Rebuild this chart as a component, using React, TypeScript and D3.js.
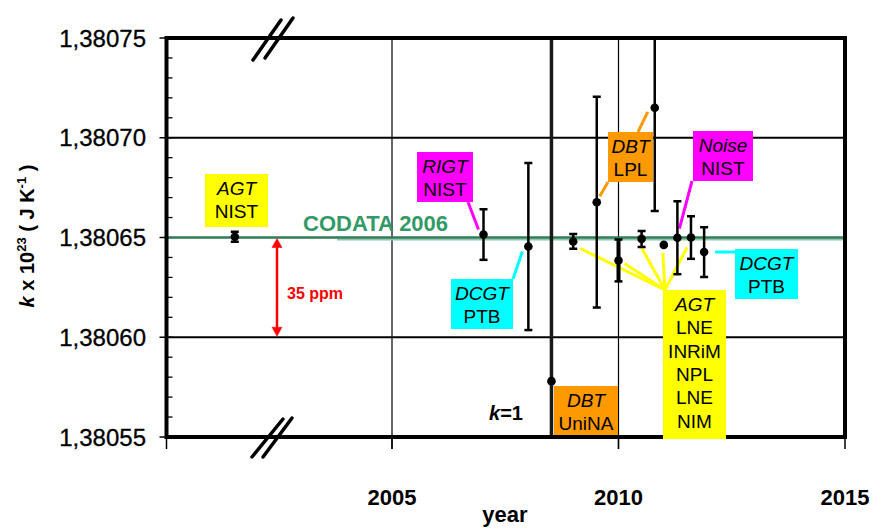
import React from "react";
import * as d3 from "d3";

const W = 872;
const H = 528;

// data: year, k x 1e23 value, uncertainty
const labels = ["AGT NIST", "RIGT NIST", "DCGT PTB", "DBT UniNA", "AGT LNE", "DBT LPL", "AGT INRiM", "AGT NPL", "DBT LPL 2", "AGT LNE 2", "Noise NIST", "AGT NIM", "DCGT PTB 2"];
const years = [2001.53, 2007.02, 2008.01, 2008.52, 2009.0, 2009.52, 2010.0, 2010.51, 2010.8, 2011.0, 2011.3, 2011.6, 2011.89];
const values = [1.3806504, 1.3806515, 1.3806455, 1.380578, 1.380648, 1.3806677, 1.3806385, 1.3806493, 1.380715, 1.3806463, 1.3806499, 1.38065, 1.3806427];
const errors = [0.0000025, 0.0000127, 0.0000419, 0.00025, 0.0000037, 0.0000528, 0.0000105, 0.000004, 0.0000517, 0.0000002, 0.0000183, 0.0000107, 0.0000125];

const yTicks = [1.38055, 1.3806, 1.38065, 1.3807, 1.38075];
const yMinor = d3.range(0, 21).map((i) => 1.38055 + i * 0.00001);
const xTicks = [2005, 2010, 2015];
const codata = 1.38065;

const L = 166.5, R = 845, T = 38, B = 437;
const x = d3.scaleLinear().domain([2000, 2015]).range([165.5, 845]);
const y = d3.scaleLinear().domain([1.38055, 1.38075]).range([B, T]);

const fmt = (v: number) => d3.format(".5f")(v).replace(".", ",");

const font = "'Liberation Sans', Arial, sans-serif";

type Box = { x: number; y: number; w: number; h: number; fill: string; lines: string[] };
const boxes: Box[] = [
  { x: 205, y: 174, w: 63, h: 53, fill: "#ffff00", lines: ["AGT", "NIST"] },
  { x: 417, y: 152, w: 56, h: 50, fill: "#ff00ff", lines: ["RIGT", "NIST"] },
  { x: 451, y: 279, w: 62, h: 50, fill: "#00ffff", lines: ["DCGT", "PTB"] },
  { x: 608, y: 132, w: 45, h: 50, fill: "#ff9900", lines: ["DBT", "LPL"] },
  { x: 693, y: 131, w: 60, h: 50, fill: "#ff00ff", lines: ["Noise", "NIST"] },
  { x: 735, y: 249, w: 63, h: 50, fill: "#00ffff", lines: ["DCGT", "PTB"] },
  { x: 663, y: 290, w: 63, h: 149, fill: "#ffff00", lines: ["AGT", "LNE", "INRiM", "NPL", "LNE", "NIM"] },
  { x: 554, y: 386, w: 64, h: 49, fill: "#ff9900", lines: ["DBT", "UniNA"] },
];

// leader lines: start point (box side), target data index, offset from point
type Leader = { sx: number; sy: number; i: number; dx: number; dy: number; color: string };
const leaders: Leader[] = [
  { sx: 468, sy: 202, i: 1, dx: -5, dy: -5, color: "#ff00ff" },
  { sx: 513, sy: 279, i: 2, dx: -6, dy: 5, color: "#00ffff" },
  { sx: 608, sy: 182, i: 5, dx: 3, dy: -6, color: "#ff9900" },
  { sx: 638, sy: 132, i: 8, dx: -7, dy: 4, color: "#ff9900" },
  { sx: 692, sy: 181, i: 10, dx: 2, dy: -9, color: "#ff00ff" },
  { sx: 735, sy: 252, i: 12, dx: 11, dy: 0, color: "#00ffff" },
  { sx: 665, sy: 290, i: 4, dx: 7, dy: 7, color: "#ffff00" },
  { sx: 665, sy: 290, i: 6, dx: 6, dy: 3, color: "#ffff00" },
  { sx: 665, sy: 290, i: 7, dx: 0, dy: 9, color: "#ffff00" },
  { sx: 665, sy: 290, i: 9, dx: -1, dy: 8, color: "#ffff00" },
  { sx: 665, sy: 290, i: 11, dx: -4, dy: 10, color: "#ffff00" },
];

export default function App() {
  return (
    <svg width={W} height={H} style={{ position: "absolute", left: 0, top: 0, background: "#fff" }} fontFamily={font}>
      <defs>
        <clipPath id="plot">
          <rect x={L} y={T} width={R - L} height={B - T} />
        </clipPath>
      </defs>
      {/* gridlines */}
      {xTicks.filter((t) => t < 2015).map((t) => (
        <line key={"gx" + t} x1={x(t)} x2={x(t)} y1={T} y2={B + 12} stroke="#000" strokeWidth={1.2} />
      ))}
      {[1.3806, 1.3807].map((t) => (
        <line key={"gy" + t} x1={L} x2={R} y1={y(t)} y2={y(t)} stroke="#000" strokeWidth={2} />
      ))}
      {/* y ticks */}
      {yMinor.map((t, i) => (
        <line key={"mi" + i} x1={L} x2={L + 6} y1={y(t)} y2={y(t)} stroke="#000" strokeWidth={1.3} />
      ))}
      {yTicks.map((t) => (
        <g key={"yt" + t}>
          <line x1={L - 7} x2={L} y1={y(t)} y2={y(t)} stroke="#000" strokeWidth={1.5} />
          <text x={146} y={y(t) + 8.5} textAnchor="end" fontSize={24} fill="#000" stroke="#000" strokeWidth={0.3}>{fmt(t)}</text>
        </g>
      ))}
      {/* x ticks */}
      {[2000, ...xTicks].map((t) => (
        <line key={"xt" + t} x1={Math.max(x(t), L)} x2={Math.max(x(t), L)} y1={B} y2={B + 12} stroke="#000" strokeWidth={1.5} />
      ))}
      {xTicks.map((t) => (
        <text key={"xl" + t} x={x(t)} y={505} textAnchor="middle" fontSize={22} fontWeight="bold">{t}</text>
      ))}
      {/* CODATA line */}
      <line x1={337} x2={R} y1={y(codata) + 2} y2={y(codata) + 2} stroke="#8cc8a8" strokeWidth={2} />
      <line x1={L} x2={R} y1={y(codata)} y2={y(codata)} stroke="#2e7d57" strokeWidth={2.5} />
      <text x={303} y={231} fontSize={22} fontWeight="bold" fill="#339966">CODATA 2006</text>
      {/* 35 ppm arrow */}
      <g stroke="#ff0000" fill="#ff0000">
        <line x1={277} x2={277} y1={y(codata) + 6} y2={y(1.3806) - 6} strokeWidth={2.5} />
        <path d={`M272,${y(codata) + 10} L277,${y(codata) + 1} L282,${y(codata) + 10} Z`} strokeWidth={0.5} />
        <path d={`M272,${y(1.3806) - 10} L277,${y(1.3806) - 1} L282,${y(1.3806) - 10} Z`} strokeWidth={0.5} />
      </g>
      <text x={287} y={299} fontSize={16} fontWeight="bold" fill="#ff0000">35 ppm</text>
      {/* leader lines */}
      {leaders.map((l, k) => (
        <line key={"ld" + k} x1={l.sx} y1={l.sy} x2={x(years[l.i]) + l.dx} y2={y(values[l.i]) + l.dy} stroke={l.color} strokeWidth={3} />
      ))}
      {/* error bars */}
      <g clipPath="url(#plot)">
        {years.map((yr, i) => {
          const cx = x(yr);
          const y1 = y(values[i] + errors[i]);
          const y2 = y(values[i] - errors[i]);
          const big = i === 3;
          const tiny = errors[i] < 0.000001;
          return (
            <g key={"eb" + i} stroke={big ? "#1a1a1a" : "#000"}>
              <line x1={cx} x2={cx} y1={y1} y2={y2} strokeWidth={big ? 3.5 : i === 6 ? 4 : 2.5} />
              {!big && !tiny && <line x1={cx - 4} x2={cx + 4} y1={y1} y2={y1} strokeWidth={2.5} />}
              {!big && !tiny && <line x1={cx - 4} x2={cx + 4} y1={y2} y2={y2} strokeWidth={2.5} />}
              <circle cx={cx} cy={y(values[i])} r={4.3} fill="#000" stroke="none" />
            </g>
          );
        })}
      </g>
      {/* frame */}
      <rect x={L} y={T} width={R - L} height={B - T} fill="none" stroke="#000" strokeWidth={4} />
      {/* axis breaks */}
      <g stroke="#000" strokeWidth={3.5} strokeLinecap="round">
        <line x1={253} y1={60} x2={281} y2={20} />
        <line x1={265} y1={58} x2={293} y2={18} />
        <line x1={252} y1={457} x2={283} y2={419} />
        <line x1={263} y1={457} x2={292} y2={418} />
      </g>
      {/* label boxes */}
      {boxes.map((b, i) => (
        <g key={"bx" + i}>
          <rect x={b.x} y={b.y} width={b.w} height={b.h} fill={b.fill} />
          {b.lines.map((t, j) => (
            <text key={j} x={b.x + b.w / 2} y={b.y + 21 + j * 23.3} textAnchor="middle" fontSize={19} fontStyle={j === 0 ? "italic" : "normal"} fill="#000">{t}</text>
          ))}
        </g>
      ))}
      {/* k=1 */}
      <text x={506} y={420} textAnchor="middle" fontSize={20} fontWeight="bold">
        <tspan fontStyle="italic">k</tspan>=1
      </text>
      {/* axis titles */}
      <text x={505} y={522} textAnchor="middle" fontSize={22} fontWeight="bold">year</text>
      <text transform="translate(34,236) rotate(-90)" textAnchor="middle" fontSize={20} fontWeight="bold">
        <tspan fontStyle="italic">k</tspan>
        <tspan> x 10</tspan>
        <tspan fontSize={13} dy={-8}>23</tspan>
        <tspan dy={8}>  ( J K</tspan>
        <tspan fontSize={13} dy={-8}>-1</tspan>
        <tspan dy={8}> )</tspan>
      </text>
    </svg>
  );
}
